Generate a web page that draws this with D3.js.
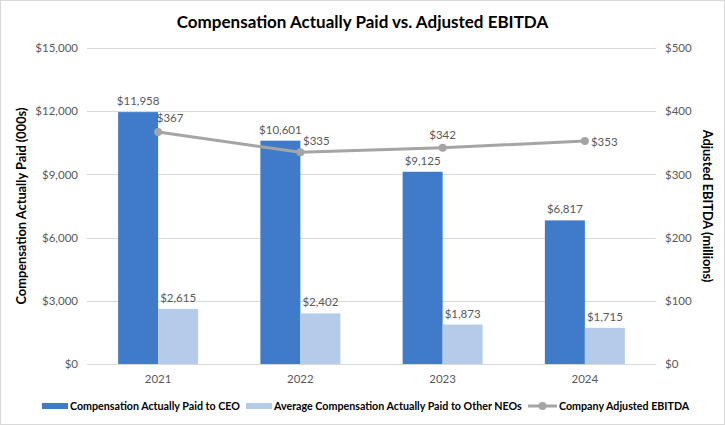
<!DOCTYPE html>
<html lang="en">
<head>
    <meta charset="UTF-8">
    <title>Compensation Actually Paid vs. Adjusted EBITDA</title>
    <script src="https://d3js.org/d3.v7.min.js"></script>
    <style>
        body {
            margin: 0;
            padding: 0;
            background: #fff;
            font-family: Lato, "Open Sans", sans-serif;
        }
        svg text {
            fill: #595959;
        }
    </style>
</head>
<body>
    <svg id="chart" width="725" height="425"></svg>

    <script>
        const years = ["2021", "2022", "2023", "2024"];
        const ceoPaid = [11958, 10601, 9125, 6817];
        const neoPaid = [2615, 2402, 1873, 1715];
        const ebitda = [367, 335, 342, 353];
        const leftTicks = [0, 3000, 6000, 9000, 12000, 15000];
        const rightTicks = [0, 100, 200, 300, 400, 500];
        const seriesNames = ["Compensation Actually Paid to CEO",
            "Average Compensation Actually Paid to Other NEOs",
            "Company Adjusted EBITDA"];

        const blue = "#3f7bc9";
        const lightBlue = "#b4cce9";
        const grey = "#a5a5a5";

        const svg = d3.select("#chart");
        const margin = { left: 87, right: 69, top: 48, bottom: 61 };
        const width = 725, height = 425;

        // chart border
        svg.append("rect")
            .attr("x", 0.5).attr("y", 0.5)
            .attr("width", width - 1).attr("height", height - 1)
            .attr("fill", "#fff")
            .attr("stroke", "#d9d9d9");

        const x = d3.scaleBand()
            .domain(years)
            .range([margin.left, width - margin.right]);

        const yLeft = d3.scaleLinear()
            .domain([0, 15000])
            .range([height - margin.bottom, margin.top]);

        const yRight = d3.scaleLinear()
            .domain([0, 500])
            .range([height - margin.bottom, margin.top]);

        const barW = 40;
        const money = d => "$" + d3.format(",")(d);

        // gridlines
        svg.append("g")
            .selectAll("line")
            .data(leftTicks)
            .enter().append("line")
            .attr("x1", margin.left).attr("x2", width - margin.right)
            .attr("y1", d => Math.round(yLeft(d)) + 0.5)
            .attr("y2", d => Math.round(yLeft(d)) + 0.5)
            .attr("stroke", "#d9d9d9")
            .attr("stroke-width", 1);

        // left axis
        const leftAxis = svg.append("g")
            .attr("transform", `translate(${margin.left},0)`)
            .call(d3.axisLeft(yLeft).tickValues(leftTicks).tickFormat(money).tickSize(0).tickPadding(9));
        leftAxis.select(".domain").remove();
        leftAxis.selectAll("text").style("font-size", "11.5px").style("font-family", "Lato, sans-serif").attr("fill", "#595959");

        // right axis
        const rightAxis = svg.append("g")
            .attr("transform", `translate(${width - margin.right},0)`)
            .call(d3.axisRight(yRight).tickValues(rightTicks).tickFormat(money).tickSize(0).tickPadding(9));
        rightAxis.select(".domain").remove();
        rightAxis.selectAll("text").style("font-size", "11.5px").style("font-family", "Lato, sans-serif").attr("fill", "#595959");

        // x axis
        const xAxis = svg.append("g")
            .attr("transform", `translate(0,${height - margin.bottom})`)
            .call(d3.axisBottom(x).tickSize(0).tickPadding(11));
        xAxis.select(".domain").remove();
        xAxis.selectAll("text").style("font-size", "11.5px").style("font-family", "Lato, sans-serif").attr("fill", "#595959");

        // CEO bars
        const cx = d => x(d) + x.bandwidth() / 2;
        svg.append("g")
            .selectAll("rect")
            .data(years)
            .enter().append("rect")
            .attr("x", (d) => cx(d) - barW)
            .attr("width", barW)
            .attr("y", (d, i) => yLeft(ceoPaid[i]))
            .attr("height", (d, i) => yLeft(0) - yLeft(ceoPaid[i]))
            .attr("fill", blue);

        // NEO bars
        svg.append("g")
            .selectAll("rect")
            .data(years)
            .enter().append("rect")
            .attr("x", (d) => cx(d))
            .attr("width", barW)
            .attr("y", (d, i) => yLeft(neoPaid[i]))
            .attr("height", (d, i) => yLeft(0) - yLeft(neoPaid[i]))
            .attr("fill", lightBlue);

        // bar labels
        svg.append("g")
            .selectAll("text")
            .data(years)
            .enter().append("text")
            .attr("x", d => cx(d) - barW / 2)
            .attr("y", (d, i) => yLeft(ceoPaid[i]) - 7)
            .attr("text-anchor", "middle")
            .style("font-size", "11.5px")
            .text((d, i) => money(ceoPaid[i]));

        svg.append("g")
            .selectAll("text")
            .data(years)
            .enter().append("text")
            .attr("x", d => cx(d) + barW / 2)
            .attr("y", (d, i) => yLeft(neoPaid[i]) - 7)
            .attr("text-anchor", "middle")
            .style("font-size", "11.5px")
            .text((d, i) => money(neoPaid[i]));

        // EBITDA line
        const line = d3.line()
            .x((d, i) => cx(years[i]))
            .y(d => yRight(d));

        svg.append("path")
            .datum(ebitda)
            .attr("d", line)
            .attr("fill", "none")
            .attr("stroke", grey)
            .attr("stroke-width", 3)
            .attr("stroke-linejoin", "round");

        svg.append("g")
            .selectAll("circle")
            .data(ebitda)
            .enter().append("circle")
            .attr("cx", (d, i) => cx(years[i]))
            .attr("cy", d => yRight(d))
            .attr("r", 4)
            .attr("fill", grey);

        // line labels (nudged like the original)
        const lineLabelDx = [12, 16, 0, 6];
        const lineLabelDy = [-10, -7, -9, 5];
        svg.append("g")
            .selectAll("text")
            .data(ebitda)
            .enter().append("text")
            .attr("x", (d, i) => cx(years[i]) + lineLabelDx[i])
            .attr("y", (d, i) => yRight(d) + lineLabelDy[i])
            .attr("text-anchor", (d, i) => i === 3 ? "start" : "middle")
            .style("font-size", "11.5px")
            .text(d => money(d));

        // title
        svg.append("text")
            .attr("x", width / 2)
            .attr("y", 28)
            .attr("text-anchor", "middle")
            .style("font-size", "17px")
            .style("font-weight", "bold")
            .style("fill", "#000")
            .text("Compensation Actually Paid vs. Adjusted EBITDA");

        // axis titles
        svg.append("text")
            .attr("transform", `translate(26,${(margin.top + height - margin.bottom) / 2}) rotate(-90)`)
            .attr("text-anchor", "middle")
            .style("font-size", "12.8px")
            .style("font-weight", "bold")
            .style("fill", "#000")
            .text("Compensation Actually Paid (000s)");

        svg.append("text")
            .attr("transform", `translate(703,${(margin.top + height - margin.bottom) / 2}) rotate(90)`)
            .attr("text-anchor", "middle")
            .style("font-size", "12.8px")
            .style("font-weight", "bold")
            .style("fill", "#000")
            .text("Adjusted EBITDA (millions)");

        // legend
        const legend = svg.append("g").attr("transform", "translate(0,406)");
        const legendX = [42, 246, 528];
        const legendColors = [blue, lightBlue, grey];
        seriesNames.forEach((name, i) => {
            const g = legend.append("g").attr("transform", `translate(${legendX[i]},0)`);
            if (i < 2) {
                g.append("rect").attr("x", 0).attr("y", -3).attr("width", 26).attr("height", 6)
                    .attr("fill", legendColors[i]);
            } else {
                g.append("line").attr("x1", 0).attr("x2", 29).attr("y1", 0).attr("y2", 0)
                    .attr("stroke", grey).attr("stroke-width", 3);
                g.append("circle").attr("cx", 14.5).attr("cy", 0).attr("r", 4).attr("fill", grey);
            }
            g.append("text")
                .attr("x", i < 2 ? 28 : 31)
                .attr("y", 4)
                .style("font-size", "10.7px")
                .style("font-weight", "bold")
                .style("fill", "#000")
                .text(name);
        });
    </script>
</body>
</html>
